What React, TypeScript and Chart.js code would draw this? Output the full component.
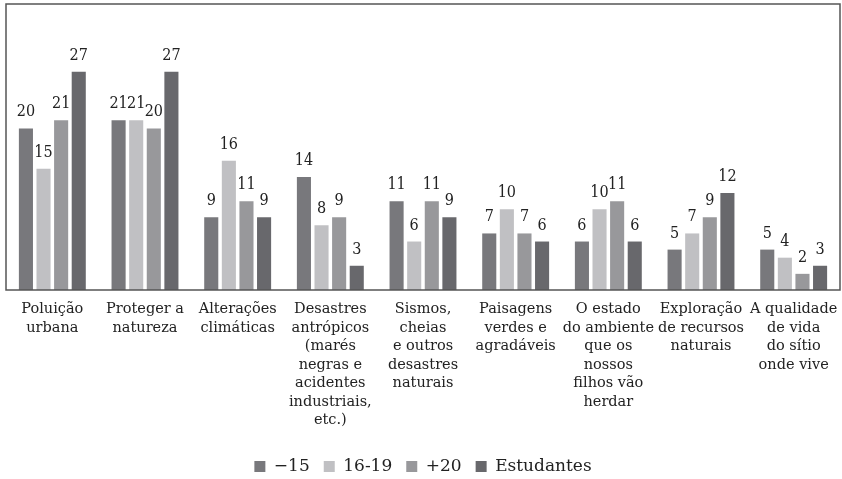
import React, { useEffect, useRef } from "react";
import { Chart, registerables } from "chart.js";

Chart.register(...registerables);

const categories: string[][] = [
  ["Poluição", "urbana"],
  ["Proteger a", "natureza"],
  ["Alterações", "climáticas"],
  ["Desastres", "antrópicos", "(marés", "negras e", "acidentes", "industriais,", "etc.)"],
  ["Sismos,", "cheias", "e outros", "desastres", "naturais"],
  ["Paisagens", "verdes e", "agradáveis"],
  ["O estado", "do ambiente", "que os", "nossos", "filhos vão", "herdar"],
  ["Exploração", "de recursos", "naturais"],
  ["A qualidade", "de vida", "do sítio", "onde vive"],
];

const seriesNames = ["\u221215", "16-19", "+20", "Estudantes"];
const under15 = [20, 21, 9, 14, 11, 7, 6, 5, 5];
const age16to19 = [15, 21, 16, 8, 6, 10, 10, 7, 4];
const over20 = [21, 20, 11, 9, 11, 7, 11, 9, 2];
const students = [27, 27, 9, 3, 9, 6, 6, 12, 3];
const colors = ["#78787c", "#c0c0c3", "#98989b", "#68686c"];

const FONT = "'DejaVu Serif', serif";

const valueLabels = {
  id: "valueLabels",
  afterDatasetsDraw(chart: any) {
    const ctx = chart.ctx;
    ctx.save();
    ctx.font = `16px 'DejaVu Serif Condensed', 'DejaVu Serif', serif`;
    ctx.fillStyle = "#222";
    ctx.textAlign = "center";
    ctx.textBaseline = "alphabetic";
    chart.data.datasets.forEach((ds: any, i: number) => {
      const meta = chart.getDatasetMeta(i);
      meta.data.forEach((bar: any, j: number) => {
        ctx.fillText(String(ds.data[j]), bar.x, bar.y - 12);
      });
    });
    ctx.restore();
  },
};

const frame = {
  id: "frame",
  afterDraw(chart: any) {
    const { ctx, chartArea: a } = chart;
    ctx.save();
    ctx.strokeStyle = "#555";
    ctx.lineWidth = 1.5;
    ctx.strokeRect(a.left, a.top, a.right - a.left, a.bottom - a.top);
    ctx.restore();
  },
};

export default function App() {
  const ref = useRef<HTMLCanvasElement>(null);
  useEffect(() => {
    document.body.style.margin = "0";
    const series = [under15, age16to19, over20, students];
    const chart = new Chart(ref.current as HTMLCanvasElement, {
      type: "bar",
      data: {
        labels: categories,
        datasets: series.map((d, i) => ({
          label: seriesNames[i],
          data: d,
          backgroundColor: colors[i],
          barPercentage: 0.8,
          categoryPercentage: 0.76,
        })),
      },
      options: {
        animation: false,
        responsive: false,
        maintainAspectRatio: false,
        layout: { padding: { left: 6, right: 2, top: 4, bottom: -6 } },
        plugins: {
          legend: {
            position: "bottom",
            labels: {
              font: { family: FONT, size: 17 },
              color: "#222",
              boxWidth: 11,
              boxHeight: 11,
              padding: 14,
            },
          },
          tooltip: { enabled: false },
        },
        scales: {
          x: {
            grid: { display: false },
            border: { display: false },
            ticks: {
              font: { family: FONT, size: 14.5, lineHeight: 1.28 },
              color: "#222",
              maxRotation: 0,
              autoSkip: false,
              padding: 2,
            },
            afterFit(scale: any) {
              scale.height = 154;
            },
          },
          y: {
            display: false,
            min: 0,
            max: 35.4,
          },
        },
      },
      plugins: [valueLabels, frame],
    });
    return () => chart.destroy();
  }, []);
  return (
    <div style={{ width: 842, height: 479 }}>
      <canvas ref={ref} width={842} height={479} />
    </div>
  );
}
